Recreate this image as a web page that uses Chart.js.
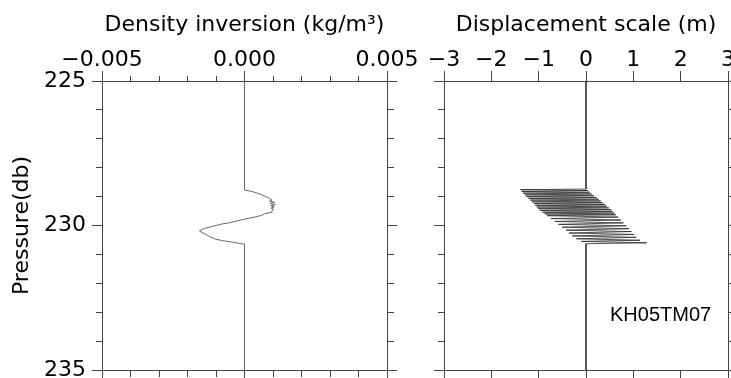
<!DOCTYPE html>
<html>
<head>
<meta charset="utf-8">
<script src="https://cdn.jsdelivr.net/npm/chart.js@4.4.0/dist/chart.umd.min.js"></script>
<style>
body { margin: 0; background: #fff; }
#wrap { position: relative; width: 731px; height: 378px; overflow: hidden; }
canvas { position: absolute; top: 0; }
#c1 { left: 0; }
#c2 { left: 420px; }
#tag { position: absolute; left: 610px; top: 304px; font: 20px "Liberation Sans", Arial, sans-serif; line-height: 20px; color: #000; }
</style>
</head>
<body>
<div id="wrap">
  <canvas id="c1" width="428" height="378"></canvas>
  <canvas id="c2" width="311" height="378"></canvas>
  <div id="tag">KH05TM07</div>
</div>
<script>
// density inversion profile: pressure (db) and value (kg/m3)
var densP = [225.00, 228.77, 228.82, 228.88, 228.94, 229.00, 229.06, 229.12, 229.16, 229.20,
             229.24, 229.28, 229.32, 229.36, 229.40, 229.44, 229.48, 229.54, 229.60, 229.65,
             229.70, 229.75, 229.80, 229.85, 229.90, 229.95, 230.00, 230.05, 230.10, 230.15,
             230.19, 230.24, 230.29, 230.34, 230.40, 230.46, 230.52, 230.58, 230.63, 230.64, 235.00];
var densV = [0, 0, 0.00025, 0.00045, 0.0006, 0.00075, 0.00088, 0.00097, 0.00088, 0.00106,
             0.0009, 0.00108, 0.00092, 0.00104, 0.00093, 0.00103, 0.00097, 0.00095, 0.0007, 0.0006,
             0.0004, 0.00015, -0.0001, -0.0003, -0.0005, -0.0008, -0.001, -0.0012, -0.0014, -0.00152,
             -0.00158, -0.0015, -0.00139, -0.0013, -0.0012, -0.00105, -0.0008, -0.0004, -0.0001, 0, 0];

// displacement scale profile: pressure (db) and value (m)
var dispP = [225.00, 228.74, 228.76, 228.79, 228.82, 228.85, 228.88, 228.91, 228.94, 228.97,
             229.00, 229.03, 229.06, 229.09, 229.12, 229.15, 229.18, 229.21, 229.24, 229.27,
             229.30, 229.33, 229.36, 229.39, 229.42, 229.45, 229.48, 229.51, 229.54, 229.57,
             229.60, 229.63, 229.66, 229.71, 229.76, 229.81, 229.86, 229.91, 229.96, 230.01,
             230.06, 230.11, 230.16, 230.21, 230.26, 230.31, 230.36, 230.41, 230.46, 230.51,
             230.55, 230.60, 230.63, 235.00];
var dispV = [0, 0, -1.39, 0.04, -1.36, 0.08, -1.33, 0.12, -1.29, 0.17,
             -1.26, 0.22, -1.22, 0.27, -1.18, 0.31, -1.14, 0.35, -1.10, 0.40,
             -1.07, 0.44, -1.04, 0.48, -1.01, 0.53, -0.97, 0.56, -0.92, 0.60,
             -0.87, 0.63, -0.82, 0.68, -0.74, 0.74, -0.66, 0.79, -0.58, 0.85,
             -0.50, 0.91, -0.42, 0.96, -0.36, 1.01, -0.29, 1.06, -0.20, 1.14,
             -0.10, 1.28, 0, 0];

// labelled ticks
var densMajor = [-0.005, 0, 0.005];
var densLabels = ['\u22120.005', '0.000', '0.005'];
var dispMajor = [-3, -2, -1, 0, 1, 2, 3];
var dispLabels = ['\u22123', '\u22122', '\u22121', '0', '1', '2', '3'];
var presMajor = [225, 230, 235];
var presLabels = ['225', '230', '235'];

var FONT = 'DejaVu Sans';
var AX = '#444';

function majorIdx(v, majors) {
  for (var i = 0; i < majors.length; i++) {
    if (Math.abs(majors[i] - v) < 1e-9) return i;
  }
  return -1;
}

function pts(P, V) {
  var a = [];
  for (var i = 0; i < P.length; i++) a.push({x: V[i], y: P[i]});
  return a;
}

function axis(pos, min, max, step, majors, labels, show, size, title, pad) {
  var horiz = (pos == 'top' || pos == 'bottom');
  return {
    type: 'linear',
    position: pos,
    min: min,
    max: max,
    reverse: !horiz,
    border: {display: true, color: AX, width: 1},
    grid: {
      drawOnChartArea: false,
      drawTicks: true,
      tickLength: 10,
      tickWidth: 1,
      // top minor ticks are drawn by the minorTop plugin below
      tickColor: function (c) {
        if (pos == 'top' && c.tick && majorIdx(c.tick.value, majors) < 0) return 'rgba(0,0,0,0)';
        return AX;
      },
      // minor ticks: shorten the tick mark with a dash so only the part next to the axis shows
      tickBorderDash: function (c) {
        if (!c.tick || majorIdx(c.tick.value, majors) >= 0) return [];
        if (pos == 'left') return [0, 4, 10, 0];
        if (pos == 'top') return [];
        return [6, 20];
      }
    },
    ticks: {
      display: show,
      stepSize: step,
      autoSkip: false,
      maxRotation: 0,
      padding: pad,
      color: '#000',
      font: {family: FONT, size: 22, lineHeight: 1},
      callback: function (v) {
        var i = majorIdx(v, majors);
        return i < 0 ? '' : labels[i];
      }
    },
    title: title ? {
      display: true,
      text: title,
      color: '#000',
      font: {family: FONT, size: 22},
      padding: horiz ? {top: 12, bottom: 0} : {top: 9, bottom: 0}
    } : {display: false},
    afterFit: function (s) {
      if (horiz) s.height = size; else s.width = size;
      s.paddingLeft = 0; s.paddingRight = 0; s.paddingTop = 0; s.paddingBottom = 0;
    }
  };
}

// short minor ticks above the top axis, placed with the scale's own pixel mapping
var minorTop = {
  id: 'minorTop',
  afterDraw: function (chart) {
    var s = chart.scales.x;
    var ctx = chart.ctx;
    var top = Math.round(chart.chartArea.top);
    ctx.save();
    ctx.strokeStyle = AX;
    ctx.lineWidth = 1;
    ctx.beginPath();
    s.ticks.forEach(function (t) {
      if (majorIdx(t.value, densMajor) >= 0) return;
      var px = Math.floor(s.getPixelForValue(t.value)) + 0.5;
      ctx.moveTo(px, top - 5);
      ctx.lineTo(px, top + 0.5);
    });
    ctx.stroke();
    ctx.restore();
  }
};

var densChart = new Chart(document.getElementById('c1'), {
  type: 'scatter',
  data: {
    datasets: [{
      data: pts(densP, densV),
      showLine: true,
      borderColor: '#666',
      borderWidth: 1,
      pointRadius: 0,
      tension: 0
    }]
  },
  options: {
    responsive: false,
    animation: false,
    layout: {padding: 0},
    plugins: {legend: {display: false}, tooltip: {enabled: false}},
    scales: {
      x: axis('top', -0.005, 0.005, 0.001, densMajor, densLabels, true, 81, 'Density inversion (kg/m\u00b3)', 0),
      x2: axis('bottom', -0.005, 0.005, 0.001, densMajor, densLabels, false, 8, null, 0),
      y: axis('left', 225, 235, 1, presMajor, presLabels, true, 102, 'Pressure(db)', 6),
      y2: axis('right', 225, 235, 1, presMajor, presLabels, false, 41, null, 0)
    }
  },
  plugins: [minorTop]
});

var dispChart = new Chart(document.getElementById('c2'), {
  type: 'scatter',
  data: {
    datasets: [{
      data: pts(dispP, dispV),
      showLine: true,
      borderColor: '#2a2a2a',
      borderWidth: 0.8,
      pointRadius: 0,
      tension: 0
    }]
  },
  options: {
    responsive: false,
    animation: false,
    layout: {padding: 0},
    plugins: {legend: {display: false}, tooltip: {enabled: false}},
    scales: {
      x: axis('top', -3, 3, 1, dispMajor, dispLabels, true, 81, 'Displacement scale (m)', 0),
      x2: axis('bottom', -3, 3, 1, dispMajor, dispLabels, false, 8, null, 0),
      y: axis('left', 225, 235, 1, presMajor, presLabels, false, 24, null, 0),
      y2: axis('right', 225, 235, 1, presMajor, presLabels, false, 3, null, 0)
    }
  }
});
</script>
</body>
</html>
